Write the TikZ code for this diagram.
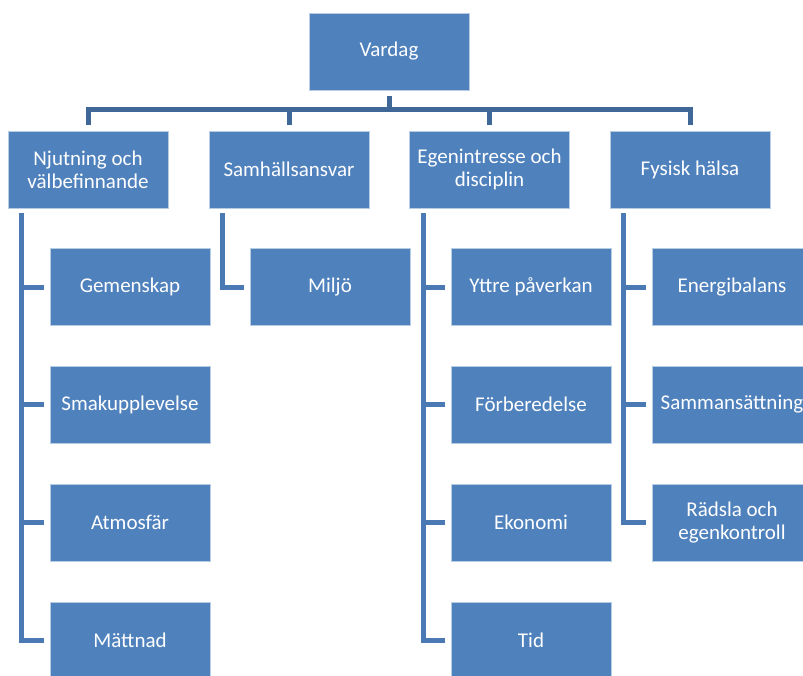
\documentclass[tikz,border=0pt]{standalone}
\usepackage{fontspec}
\setmainfont{Carlito}
\definecolor{boxblue}{HTML}{4F81BD}
\definecolor{busblue}{HTML}{3F6898}
\definecolor{lineblue}{HTML}{4A79B3}
\definecolor{edgeblue}{HTML}{B8CCE4}
\begin{document}
\begin{tikzpicture}[x=1pt,y=-1pt,
  box/.style={rectangle, fill=boxblue, draw=edgeblue, line width=0.8pt,
    minimum width=160pt, minimum height=77pt, inner sep=2pt,
    text=white, align=center, font=\fontsize{21}{23}\selectfont},
  busline/.style={draw=busblue, line width=5pt},
  childline/.style={draw=lineblue, line width=5pt}]
\path[use as bounding box, clip] (0,0) rectangle (803,675);
\fill[white] (0,0) rectangle (803,675);

\node[box] (V) at (389,51.5) {Vardag};

\node[box] (A) at (88,169.5) {Njutning och\\välbefinnande};
\node[box] (B) at (289,169.5) {Samhällsansvar};
\node[box] (C) at (489.5,169.5) {Egenintresse och\\disciplin};
\node[box] (D) at (690,169.5) {Fysisk hälsa};

\node[box] (A1) at (130,287) {Gemenskap};
\node[box] (A2) at (130,404.5) {Smakupplevelse};
\node[box] (A3) at (130,522.5) {Atmosfär};
\node[box] (A4) at (130,640.5) {Mättnad};

\node[box] (B1) at (330,287) {Miljö};

\node[box] (C1) at (531,287) {Yttre påverkan};
\node[box] (C2) at (531,404.5) {Förberedelse};
\node[box] (C3) at (531,522.5) {Ekonomi};
\node[box] (C4) at (531,640.5) {Tid};

\node[box] (D1) at (732,287) {Energibalans};
\node[box] (D2) at (732,404.5) {Sammansättning};
\node[box] (D3) at (732,522.5) {Rädsla och\\egenkontroll};

\foreach \n in {A,B,C,D}
  \draw[busline] ([yshift=-6pt]V.south) |- ([yshift=21pt]\n.north) -- ([yshift=6pt]\n.north);

\foreach \p/\c in {A/A1,A/A2,A/A3,A/A4,B/B1,C/C1,C/C2,C/C3,C/C4,D/D1,D/D2,D/D3}
  \draw[childline] ([xshift=14pt,yshift=-5pt]\p.south west) |- ([xshift=-6pt]\c.west);
\end{tikzpicture}
\end{document}
